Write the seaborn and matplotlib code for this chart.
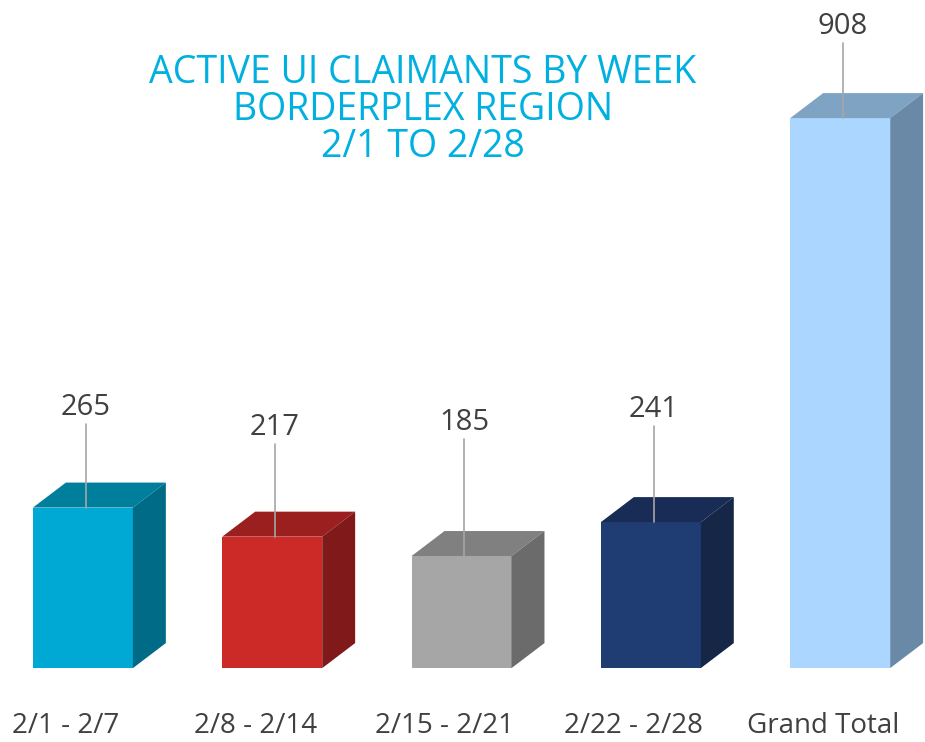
import pandas as pd
import seaborn as sns
import matplotlib.pyplot as plt
from matplotlib.patches import Polygon

# Dữ liệu
weeks = ["2/1 - 2/7", "2/8 - 2/14", "2/15 - 2/21", "2/22 - 2/28", "Grand Total"]
claimants = [265, 217, 185, 241, 908]
front_colors = ["#00A9D4", "#CC2A27", "#A6A6A6", "#1F3D73", "#AAD6FF"]
top_colors = ["#007F9D", "#9B1F1F", "#808080", "#182C55", "#7FA3C2"]
side_colors = ["#006B86", "#801A1A", "#6B6B6B", "#152646", "#6989A6"]

title = "ACTIVE UI CLAIMANTS BY WEEK\nBORDERPLEX REGION\n2/1 TO 2/28"


def plot_claimants():
    sns.set_style("white")
    plt.rcParams['font.family'] = ['Open Sans', 'DejaVu Sans']
    df = pd.DataFrame({"week": weeks, "claimants": claimants})

    fig = plt.figure(figsize=(9.25, 7.42), dpi=100)
    ax = fig.add_axes([0, 0, 1, 1])
    sns.barplot(data=df, x="week", y="claimants", hue="week", palette=front_colors,
                width=0.528, legend=False, saturation=1, ax=ax, zorder=3,
                edgecolor="none", linewidth=0)
    ax.set_xlim(-0.438, 4.448)
    ax.set_ylim(-122, 1103)

    # hiệu ứng 3D: mặt trên và mặt bên
    dx, dy = 0.174, 41.3
    lead = [84, 93, 117, 96, 75]  # độ dài đường dẫn (px)
    px = 0.6057
    for i, p in enumerate(ax.patches[:len(weeks)]):
        x0, w, h = p.get_x(), p.get_width(), p.get_height()
        x1 = x0 + w
        ax.add_patch(Polygon([(x0, h), (x0 + dx, h + dy), (x1 + dx, h + dy), (x1, h)],
                             closed=True, facecolor=top_colors[i], edgecolor="none", zorder=3))
        ax.add_patch(Polygon([(x1, 0), (x1 + dx, dy), (x1 + dx, h + dy), (x1, h)],
                             closed=True, facecolor=side_colors[i], edgecolor="none", zorder=3))
        cx = x0 + w / 2 + 0.015
        ytop = h + lead[i] / px
        ax.plot([cx, cx], [h, ytop], color="#A6A6A6", lw=1.2, zorder=4)
        ax.text(cx, ytop + 3, f"{claimants[i]}", ha="center", va="bottom",
                fontsize=21, color="#404040")
        ax.text(x0 + w / 2 - 0.09, -95, weeks[i], ha="center", va="center",
                fontsize=20, color="#404040")

    ax.set_axis_off()
    fig.text(0.457, 1 - 110 / 742, title, ha="center", va="center",
             fontsize=27, color="#00B0E0", linespacing=0.98)
    fig.savefig("out.png", dpi=100)


if __name__ == "__main__":
    plot_claimants()
